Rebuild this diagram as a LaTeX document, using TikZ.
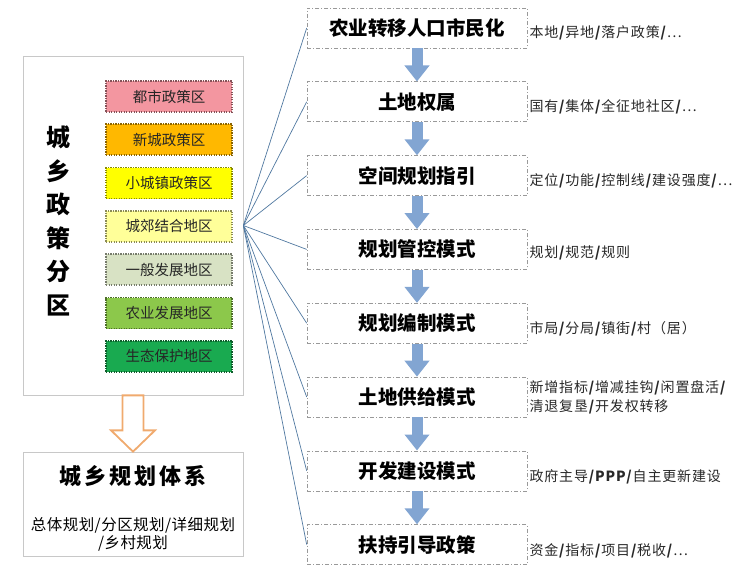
\documentclass[tikz,border=0pt]{standalone}
\usepackage{fontspec}
\setmainfont{Noto Sans CJK SC}
\newfontfamily\lblfont[LetterSpace=6]{Noto Sans CJK SC}
\newfontfamily\spacedfont[LetterSpace=14]{Noto Sans CJK SC}
\newfontfamily\subfont[LetterSpace=3]{Noto Sans CJK SC}
\usetikzlibrary{arrows.meta,calc}
\definecolor{zpink}{RGB}{243,150,160}
\definecolor{zorange}{RGB}{255,184,0}
\definecolor{zyellow}{RGB}{255,255,0}
\definecolor{zlyellow}{RGB}{255,255,153}
\definecolor{zgray}{RGB}{216,226,196}
\definecolor{zlgreen}{RGB}{140,200,75}
\definecolor{zgreen}{RGB}{25,170,80}
\definecolor{fanblue}{RGB}{80,120,160}
\definecolor{arrblue}{RGB}{130,165,210}
\definecolor{hollow}{RGB}{240,170,110}
\definecolor{framegray}{RGB}{200,200,200}
\definecolor{txtgray}{RGB}{40,40,40}
\newcommand{\bs}{\textbf{/}}
\tikzset{
  zonebox/.style={draw=#1!55!black, fill=#1, line width=1.6pt, dash pattern=on 1.4pt off 1.1pt,
    minimum width=126pt, minimum height=31pt, inner sep=0pt, font=\fontsize{14.5}{16}\selectfont, text=black!85},
  frame/.style={draw=framegray, line width=0.7pt, fill=white, inner sep=0pt},
  stepbox/.style={draw=gray!80, line width=0.6pt, dash pattern=on 4pt off 2pt on 1pt off 2pt,
    minimum width=220pt, minimum height=40pt, inner sep=0pt, font=\bfseries\fontsize{19.5}{22}\selectfont},
  lbl/.style={anchor=west, inner sep=0pt, text=txtgray, font=\lblfont\fontsize{14}{19}\selectfont, align=left},
  fan/.style={draw=fanblue, line width=0.7pt},
  downarrow/.style={draw=arrblue, line width=11pt, -{Triangle[width=24pt,length=16pt,fill=arrblue]}}
}
\begin{document}
\begin{tikzpicture}[x=1pt,y=-1pt]
\useasboundingbox (0,0) rectangle (747,580);
% left zone frame
\node[frame, minimum width=220pt, minimum height=339pt] (zone) at (133,225.5) {};
\node[align=center, inner sep=0pt, font=\bfseries\fontsize{24}{33.6}\selectfont] (vtitle) at (58,221) {城\\乡\\政\\策\\分\\区};
\foreach \t/\c [count=\i from 0] in {都市政策区/zpink,新城政策区/zorange,小城镇政策区/zyellow,城郊结合地区/zlyellow,一般发展地区/zgray,农业发展地区/zlgreen,生态保护地区/zgreen}{
  \node[zonebox=\c] (z\i) at (169,{96.5+43.3*\i}) {\t};
}
% bottom frame
\node[frame, minimum width=220pt, minimum height=104pt] (plan) at (133,504) {};
\node[inner sep=0pt, font=\spacedfont\bfseries\fontsize{22}{26}\selectfont] (plantitle) at (133,476) {城乡规划体系};
\node[inner sep=0pt, align=center, font=\subfont\fontsize{15.5}{17.5}\selectfont] (plansub) at (133,534.5) {总体规划/分区规划/详细规划\\/乡村规划};
% hollow arrow
\coordinate (ha) at (zone.south);
\coordinate (hb) at (plan.north);
\draw[draw=hollow, line width=1.8pt, fill=white, line join=miter]
  ($(ha)+(-10.5,0)$) -- ($(ha)+(10.5,0)$) -- ($(ha)+(10.5,35)$) -- ($(ha)+(22,35)$) -- (hb)
  -- ($(ha)+(-22,35)$) -- ($(ha)+(-10.5,35)$) -- cycle;
% right steps
\foreach \t [count=\i from 1] in {农业转移人口市民化,土地权属,空间规划指引,规划管控模式,规划编制模式,土地供给模式,开发建设模式,扶持引导政策}{
  \node[stepbox] (b\i) at (417,{28+73.8*(\i-1)}) {\t};
}
\foreach \i in {1,...,8}{ \draw[fan] (zone.east) -- (b\i.west); }
\foreach \i [evaluate=\i as \j using int(\i+1)] in {1,...,7}{
  \draw[downarrow] (b\i.south) -- (b\j.north);
}
% labels
\node[lbl] (l1) at ($(b1.east)+(2,5)$) {本地\bs 异地\bs 落户政策\bs …};
\node[lbl] (l2) at ($(b2.east)+(2,5)$) {国有\bs 集体\bs 全征地社区\bs …};
\node[lbl] (l3) at ($(b3.east)+(2,5)$) {定位\bs 功能\bs 控制线\bs 建设强度\bs …};
\node[lbl] (l4) at ($(b4.east)+(2,4)$) {规划\bs 规范\bs 规则};
\node[lbl] (l5) at ($(b5.east)+(2,6)$) {市局\bs 分局\bs 镇街\bs 村（居）};
\node[lbl] (l6) at ($(b6.east)+(2,0.5)$) {新增指标\bs 增减挂钩\bs 闲置盘活\bs\\清退复垦\bs 开发权转移};
\node[lbl] (l7) at ($(b7.east)+(2,6)$) {政府主导\bs\textbf{PPP}\bs 自主更新建设};
\node[lbl] (l8) at ($(b8.east)+(2,6)$) {资金\bs 指标\bs 项目\bs 税收\bs …};
\end{tikzpicture}
\end{document}
